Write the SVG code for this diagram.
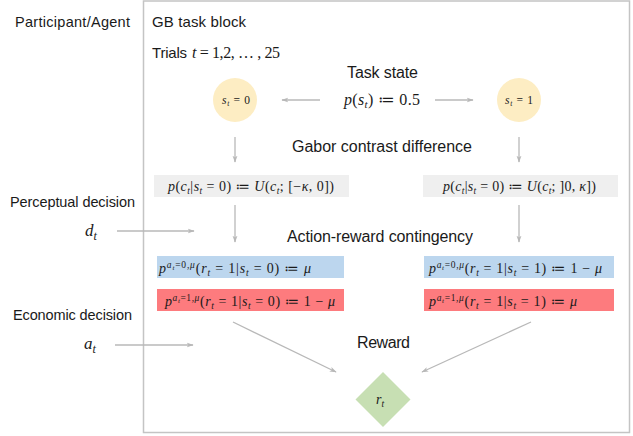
<svg xmlns="http://www.w3.org/2000/svg" width="633" height="436" viewBox="0 0 633 436">
<style>
.lbl{font-family:"Liberation Sans",Arial,sans-serif;font-size:15px;fill:#1a1a1a}
.left{font-size:14.5px}
.big{font-size:16px}
.m{font-family:"Liberation Serif","DejaVu Serif",serif;font-size:14px;fill:#1a1a1a;font-style:italic}
.n{font-style:normal}
.sub{font-size:9.5px}
.sup{font-size:9.5px}
.ss{font-size:7px}
.con{stroke:#b8b8b8;stroke-width:1.3;fill:none;marker-end:url(#ah)}
</style>
<defs>
<marker id="ah" viewBox="0 0 10 10" refX="9" refY="5" markerWidth="7" markerHeight="7" orient="auto" markerUnits="userSpaceOnUse">
<path d="M0,1.5 L10,5 L0,8.5 L2.5,5 Z" fill="#b8b8b8"/>
</marker>
</defs>
<rect width="633" height="436" fill="#ffffff"/>

<g id="frame">
<rect x="143.5" y="1" width="486" height="431.5" fill="none" stroke="#c4c4c4" stroke-width="1.5"/>
<text class="lbl" x="152" y="27" textLength="94">GB task block</text>
<text class="lbl" x="152" y="58" textLength="35">Trials</text>
<text class="m" x="192" y="58" style="font-size:16px" textLength="88">t<tspan class="n"> = 1,2, … , 25</tspan></text>
</g>

<g id="agent-labels">
<text class="lbl left" x="15" y="27" textLength="115">Participant/Agent</text>
<text class="lbl left" x="10" y="207" textLength="125">Perceptual decision</text>
<text class="m" x="85" y="236" style="font-size:17px">d<tspan style="font-size:12px" dy="4">t</tspan></text>
<text class="lbl left" x="13" y="320" textLength="119">Economic decision</text>
<text class="m" x="84" y="349" style="font-size:17px">a<tspan style="font-size:12px" dy="4">t</tspan></text>
</g>

<g id="task-state">
<text class="lbl big" x="347" y="78" textLength="71">Task state</text>
<text class="m" x="344" y="105" style="font-size:16px" textLength="76">p<tspan class="n">(</tspan>s<tspan style="font-size:11px" dy="3">t</tspan><tspan class="n" dy="-3">) ≔ 0.5</tspan></text>
</g>

<g id="s0">
<circle cx="235" cy="100" r="22" fill="#fdedc3"/>
<text class="m" x="222" y="104" style="font-size:11.5px" textLength="28">s<tspan style="font-size:7.5px" dy="2">t</tspan><tspan class="n" dy="-2"> = 0</tspan></text>
</g>
<g id="s1">
<circle cx="519" cy="100" r="22" fill="#fdedc3"/>
<text class="m" x="505" y="104" style="font-size:11.5px" textLength="28">s<tspan style="font-size:7.5px" dy="2">t</tspan><tspan class="n" dy="-2"> = 1</tspan></text>
</g>

<g id="gabor">
<text class="lbl big" x="292" y="152" textLength="180">Gabor contrast difference</text>
</g>

<g id="c0">
<rect x="154" y="175" width="195" height="22" fill="#efefef"/>
<text class="m" x="168" y="191" textLength="166">p<tspan class="n">(</tspan>c<tspan class="sub" dy="3">t</tspan><tspan class="n" dy="-3">|</tspan>s<tspan class="sub" dy="3">t</tspan><tspan class="n" dy="-3"> = 0) ≔ </tspan>U<tspan class="n">(</tspan>c<tspan class="sub" dy="3">t</tspan><tspan class="n" dy="-3">; [−</tspan>κ<tspan class="n">, 0])</tspan></text>
</g>
<g id="c1">
<rect x="423" y="175" width="195" height="22" fill="#efefef"/>
<text class="m" x="443" y="191" textLength="153">p<tspan class="n">(</tspan>c<tspan class="sub" dy="3">t</tspan><tspan class="n" dy="-3">|</tspan>s<tspan class="sub" dy="3">t</tspan><tspan class="n" dy="-3"> = 0) ≔ </tspan>U<tspan class="n">(</tspan>c<tspan class="sub" dy="3">t</tspan><tspan class="n" dy="-3">; ]0, </tspan>κ<tspan class="n">])</tspan></text>
</g>

<g id="arc">
<text class="lbl big" x="287" y="242" textLength="186">Action-reward contingency</text>
</g>

<g id="b0">
<rect x="157" y="256" width="187" height="22" fill="#bcd6ee"/>
<text class="m" x="159" y="273" textLength="152">p<tspan class="sup" dy="-5">a</tspan><tspan class="ss" dy="2">t</tspan><tspan class="sup n" dy="-2">=0,</tspan><tspan class="sup">μ</tspan><tspan class="n" dy="5">(</tspan>r<tspan class="sub" dy="3">t</tspan><tspan class="n" dy="-3"> = 1|</tspan>s<tspan class="sub" dy="3">t</tspan><tspan class="n" dy="-3"> = 0) ≔ </tspan>μ</text>
</g>
<g id="r0">
<rect x="157" y="289" width="187" height="22" fill="#fd7b7e"/>
<text class="m" x="165" y="306" textLength="170">p<tspan class="sup" dy="-5">a</tspan><tspan class="ss" dy="2">t</tspan><tspan class="sup n" dy="-2">=1,</tspan><tspan class="sup">μ</tspan><tspan class="n" dy="5">(</tspan>r<tspan class="sub" dy="3">t</tspan><tspan class="n" dy="-3"> = 1|</tspan>s<tspan class="sub" dy="3">t</tspan><tspan class="n" dy="-3"> = 0) ≔ 1 − </tspan>μ</text>
</g>
<g id="b1">
<rect x="424" y="256" width="190" height="22" fill="#bcd6ee"/>
<text class="m" x="429" y="273" textLength="173">p<tspan class="sup" dy="-5">a</tspan><tspan class="ss" dy="2">t</tspan><tspan class="sup n" dy="-2">=0,</tspan><tspan class="sup">μ</tspan><tspan class="n" dy="5">(</tspan>r<tspan class="sub" dy="3">t</tspan><tspan class="n" dy="-3"> = 1|</tspan>s<tspan class="sub" dy="3">t</tspan><tspan class="n" dy="-3"> = 1) ≔ 1 − </tspan>μ</text>
</g>
<g id="r1">
<rect x="424" y="289" width="190" height="22" fill="#fd7b7e"/>
<text class="m" x="429" y="306" textLength="148">p<tspan class="sup" dy="-5">a</tspan><tspan class="ss" dy="2">t</tspan><tspan class="sup n" dy="-2">=1,</tspan><tspan class="sup">μ</tspan><tspan class="n" dy="5">(</tspan>r<tspan class="sub" dy="3">t</tspan><tspan class="n" dy="-3"> = 1|</tspan>s<tspan class="sub" dy="3">t</tspan><tspan class="n" dy="-3"> = 1) ≔ </tspan>μ</text>
</g>

<g id="reward">
<text class="lbl big" x="357" y="348" textLength="53">Reward</text>
<polygon points="383,372 410.5,399.5 383,427 355.5,399.5" fill="#c7dfb3"/>
<text class="m" x="376" y="404" style="font-size:14px">r<tspan style="font-size:9.5px" dy="3">t</tspan></text>
</g>

<g id="connectors">
<line class="con" x1="320" y1="100" x2="282" y2="100"/>
<line class="con" x1="435" y1="100" x2="473" y2="100"/>
<line class="con" x1="235" y1="137" x2="235" y2="162"/>
<line class="con" x1="519" y1="137" x2="519" y2="162"/>
<line class="con" x1="235" y1="205" x2="235" y2="242"/>
<line class="con" x1="519" y1="205" x2="519" y2="242"/>
<line class="con" x1="117" y1="231" x2="194" y2="231"/>
<line class="con" x1="115" y1="345" x2="193" y2="345"/>
<line class="con" x1="233" y1="322" x2="336" y2="372"/>
<line class="con" x1="531" y1="322" x2="422" y2="372"/>
</g>
</svg>
